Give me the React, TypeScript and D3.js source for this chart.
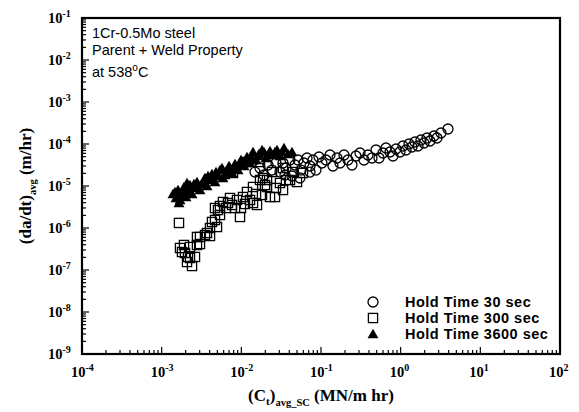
import React from 'react';
import * as d3 from 'd3';

// hold time 30 sec: [Ct, da/dt]
const HOLD_30 = [
  [0.01484, 2.15e-5], [0.01715, 2.68e-5], [0.01925, 1.83e-5], [0.02161, 3.16e-5],
  [0.02425, 2.4e-5], [0.02723, 3.53e-5], [0.03057, 2.15e-5], [0.03334, 3.53e-5],
  [0.03635, 2.68e-5], [0.04081, 4.16e-5], [0.04324, 1.73e-5], [0.04716, 3.16e-5],
  [0.05142, 4.16e-5], [0.05609, 2.4e-5], [0.06117, 3.53e-5], [0.06672, 4.64e-5],
  [0.07275, 2.99e-5], [0.07934, 4.16e-5], [0.08651, 2.4e-5], [0.09436, 4.9e-5],
  [0.1029, 3.53e-5], [0.1155, 4.16e-5], [0.1297, 5.47e-5], [0.1414, 2.99e-5],
  [0.1588, 4.64e-5], [0.1732, 3.53e-5], [0.1944, 5.47e-5], [0.2182, 4.16e-5],
  [0.2449, 3.16e-5], [0.2749, 5.18e-5], [0.3085, 6.11e-5], [0.3463, 4.16e-5],
  [0.3888, 5.47e-5], [0.4365, 4.64e-5], [0.4899, 7.2e-5], [0.5346, 4.64e-5],
  [0.6, 6.11e-5], [0.6543, 8.03e-5], [0.7345, 6.45e-5], [0.8011, 5.18e-5],
  [0.8737, 7.6e-5], [0.9806, 6.45e-5], [1.069, 8.96e-5], [1.166, 7.2e-5],
  [1.272, 1.0e-4], [1.387, 8.48e-5], [1.513, 1.116e-4], [1.65, 8.96e-5],
  [1.799, 1.245e-4], [1.962, 1.056e-4], [2.14, 1.389e-4], [2.333, 1.179e-4],
  [2.619, 1.55e-4], [2.857, 1.389e-4], [3.207, 1.827e-4], [3.926, 2.276e-4],
  [0.0544, 1.55e-5], [0.0353, 1.83e-5], [0.07275, 2.15e-5],
];

// hold time 300 sec
const HOLD_300 = [
  [1.65e-3, 1.32e-6], [1.699e-3, 3.34e-7], [1.963e-3, 2.54e-7], [1.907e-3, 3.94e-7],
  [2.08e-3, 1.55e-7], [2.141e-3, 2.04e-7], [2.403e-3, 1.245e-7], [2.268e-3, 3.53e-7],
  [2.62e-3, 2.04e-7], [2.776e-3, 3.94e-7], [3.027e-3, 6.11e-7], [2.776e-3, 6.11e-7],
  [3.499e-3, 6.81e-7], [3.707e-3, 7.6e-7], [4.043e-3, 1.0e-6], [4.67e-3, 1.55e-6],
  [4.949e-3, 1.056e-6], [5.093e-3, 2.68e-6], [4.67e-3, 2.99e-6], [5.396e-3, 2.04e-6],
  [5.886e-3, 4.16e-6], [6.42e-3, 2.99e-6], [7.21e-3, 5.18e-6], [7.64e-3, 3.53e-6],
  [8.82e-3, 4.64e-6], [9.62e-3, 1.83e-6], [9.9e-3, 2.99e-6], [0.01049, 5.47e-6],
  [0.01178, 7.2e-6], [0.01285, 4.64e-6], [0.01401, 9.47e-6], [0.01401, 3.94e-6],
  [0.01573, 3.53e-6], [0.01528, 6.45e-6], [0.01715, 1.39e-5], [0.01871, 1.55e-5],
  [0.021, 9.47e-6], [0.021, 1.39e-5], [0.02289, 5.47e-6], [0.02425, 2.15e-5],
  [0.02645, 5.47e-6], [0.02723, 8.96e-6], [0.03334, 8.03e-6], [0.03334, 2.68e-5],
  [0.03635, 1.39e-5], [0.04081, 1.39e-5], [0.04995, 1.245e-5], [0.05943, 2.04e-5],
  [7.86e-3, 2.04e-5], [0.01178, 3.73e-5], [0.01715, 3.73e-5],
  [1.8e-3, 2.68e-7], [2.268e-3, 1.93e-7], [3.027e-3, 4.16e-7], [4.043e-3, 6.45e-7],
  [4.282e-3, 1.39e-6], [5.396e-3, 3.34e-6], [6.8e-3, 3.94e-6], [8.33e-3, 2.99e-6],
  [0.0111, 3.73e-6], [0.01817, 6.11e-6], [0.0198, 1.056e-5], [0.03057, 1.179e-5],
  [0.04449, 2.15e-5],
];

// hold time 3600 sec
const HOLD_3600 = [
  [1.387e-3, 6.45e-6], [1.513e-3, 5.18e-6], [1.603e-3, 8.03e-6], [1.699e-3, 4.64e-6],
  [1.65e-3, 3.94e-6], [1.8e-3, 6.81e-6], [1.907e-3, 9.47e-6], [2.021e-3, 5.47e-6],
  [2.08e-3, 1.179e-5], [2.141e-3, 8.03e-6], [2.268e-3, 1.056e-5], [2.403e-3, 6.45e-6],
  [2.62e-3, 8.96e-6], [2.776e-3, 1.245e-5], [3.027e-3, 8.03e-6], [3.207e-3, 1.116e-5],
  [3.499e-3, 1.55e-5], [3.707e-3, 1.0e-5], [4.043e-3, 1.39e-5], [4.282e-3, 1.93e-5],
  [4.67e-3, 1.245e-5], [5.093e-3, 1.73e-5], [5.396e-3, 2.4e-5], [5.886e-3, 1.55e-5],
  [6.42e-3, 2.15e-5], [7.0e-3, 2.99e-5], [7.64e-3, 2.04e-5], [8.33e-3, 3.34e-5],
  [9.08e-3, 2.4e-5], [9.9e-3, 4.16e-5], [0.0108, 2.99e-5], [0.01178, 4.9e-5],
  [0.01285, 3.53e-5], [0.01401, 6.45e-5], [0.01528, 4.16e-5], [0.01666, 5.78e-5],
  [0.01817, 7.2e-5], [0.0204, 4.64e-5], [0.02289, 6.81e-5], [0.02497, 5.47e-5],
  [0.02803, 7.2e-5], [0.03057, 5.18e-5], [0.03432, 8.03e-5], [0.03852, 5.78e-5],
  [0.04324, 6.45e-5],
  [1.47e-3, 7.2e-6], [1.853e-3, 5.78e-6], [2.268e-3, 7.2e-6], [2.546e-3, 1.116e-5],
  [2.858e-3, 9.47e-6], [3.399e-3, 1.39e-5], [3.815e-3, 1.73e-5], [4.41e-3, 1.55e-5],
  [4.81e-3, 2.15e-5], [5.72e-3, 2.68e-5], [6.24e-3, 1.83e-5], [7.21e-3, 2.68e-5],
  [8.09e-3, 2.68e-5], [9.62e-3, 3.34e-5], [0.01144, 4.16e-5], [0.01361, 4.64e-5],
  [0.01619, 5.18e-5], [0.01925, 6.45e-5], [0.02161, 5.47e-5], [0.02645, 6.45e-5],
  [0.03239, 6.45e-5],
];

const X_DECADES = [-4, -3, -2, -1, 0, 1, 2];
const Y_DECADES = [-9, -8, -7, -6, -5, -4, -3, -2, -1];
const NOTE_LINES = ['1Cr-0.5Mo steel', 'Parent + Weld Property'];
const LEGEND = ['Hold Time 30 sec', 'Hold Time 300 sec', 'Hold Time 3600 sec'];

const W = 579;
const H = 412;
const plot = { left: 82, right: 560, top: 18, bottom: 354 };
const serif = '"Liberation Serif", "Times New Roman", serif';
const sans = '"Liberation Sans", Arial, sans-serif';

const x = d3.scaleLog().domain([1e-4, 1e2]).range([plot.left, plot.right]);
const y = d3.scaleLog().domain([1e-9, 1e-1]).range([plot.bottom, plot.top]);

const triPath = d3.symbol().type(d3.symbolTriangle).size(52)();

// minor ticks 2..9 in every decade
function minors(decades) {
  const out = [];
  decades.slice(0, -1).forEach(e => {
    for (let k = 2; k <= 9; k++) out.push(k * Math.pow(10, e));
  });
  return out;
}

function Pow({ e, ...rest }) {
  return (
    <text {...rest} fontFamily={serif} fontWeight="bold" fontSize={14.5}>
      10<tspan fontSize={10} dy={-6}>{e}</tspan>
    </text>
  );
}

function Circle({ cx, cy }) {
  return <circle cx={cx} cy={cy} r={5} fill="none" stroke="#000" strokeWidth={1.3} />;
}
function Square({ cx, cy }) {
  return <rect x={cx - 4.6} y={cy - 4.6} width={9.2} height={9.2} fill="none" stroke="#000" strokeWidth={1.3} />;
}
function Tri({ cx, cy }) {
  return <path d={triPath} transform={`translate(${cx},${cy + 1})`} fill="#000" />;
}

export default function App() {
  const xMinor = minors(X_DECADES);
  const yMinor = minors(Y_DECADES);
  const cy = (plot.top + plot.bottom) / 2;
  const cx = (plot.left + plot.right) / 2;

  return (
    <svg width={W} height={H} style={{ display: 'block', position: 'absolute', left: 0, top: 0 }}>
      <rect width={W} height={H} fill="#fff" />

      {/* data */}
      <g>
        {HOLD_3600.map((d, i) => <Tri key={'t' + i} cx={x(d[0])} cy={y(d[1])} />)}
        {HOLD_300.map((d, i) => <Square key={'s' + i} cx={x(d[0])} cy={y(d[1])} />)}
        {HOLD_30.map((d, i) => <Circle key={'c' + i} cx={x(d[0])} cy={y(d[1])} />)}
      </g>

      {/* ticks */}
      <g stroke="#000" strokeWidth={1.2}>
        {X_DECADES.map(e => (
          <line key={'xM' + e} x1={x(Math.pow(10, e))} x2={x(Math.pow(10, e))} y1={plot.bottom} y2={plot.bottom - 7} />
        ))}
        {xMinor.map((v, i) => (
          <line key={'xm' + i} x1={x(v)} x2={x(v)} y1={plot.bottom} y2={plot.bottom - 4} />
        ))}
        {Y_DECADES.map(e => (
          <line key={'yM' + e} y1={y(Math.pow(10, e))} y2={y(Math.pow(10, e))} x1={plot.left} x2={plot.left + 7} />
        ))}
        {yMinor.map((v, i) => (
          <line key={'ym' + i} y1={y(v)} y2={y(v)} x1={plot.left} x2={plot.left + 4} />
        ))}
      </g>

      {/* frame */}
      <rect x={plot.left} y={plot.top} width={plot.right - plot.left} height={plot.bottom - plot.top}
        fill="none" stroke="#000" strokeWidth={2.2} />

      {/* tick labels */}
      {X_DECADES.map(e => (
        <Pow key={'xl' + e} e={e} x={x(Math.pow(10, e)) - 11} y={plot.bottom + 23} />
      ))}
      {Y_DECADES.map(e => (
        <Pow key={'yl' + e} e={e} x={plot.left - 34} y={y(Math.pow(10, e)) + 5} />
      ))}

      {/* axis titles */}
      <text x={cx} y={plot.bottom + 47} textAnchor="middle" fontFamily={serif} fontWeight="bold" fontSize={17}>
        (C<tspan fontSize={11} dy={4}>t</tspan><tspan dy={-4}>)</tspan>
        <tspan fontSize={10.5} dy={5}>avg_SC</tspan>
        <tspan dy={-5}> (MN/m hr)</tspan>
      </text>
      <text transform={`translate(31,${cy}) rotate(-90)`} textAnchor="middle" fontFamily={serif} fontWeight="bold" fontSize={17}>
        (da/dt)<tspan fontSize={10.5} dy={5}>avg</tspan>
        <tspan dy={-5}> (m/hr)</tspan>
      </text>

      {/* note */}
      <g fontFamily={sans} fontSize={14.5}>
        {NOTE_LINES.map((t, i) => (
          <text key={'n' + i} x={92} y={38 + i * 17}>{t}</text>
        ))}
        <text x={92} y={77}>at 538<tspan fontSize={10} dy={-6}>o</tspan><tspan dy={6}>C</tspan></text>
      </g>

      {/* legend */}
      <g fontFamily={sans} fontWeight="bold" fontSize={14.5} letterSpacing={0.5}>
        {LEGEND.map((t, i) => (
          <text key={'lg' + i} x={405} y={307 + i * 16}>{t}</text>
        ))}
      </g>
      <Circle cx={373} cy={302} />
      <Square cx={373} cy={318} />
      <Tri cx={373} cy={334} />
    </svg>
  );
}
